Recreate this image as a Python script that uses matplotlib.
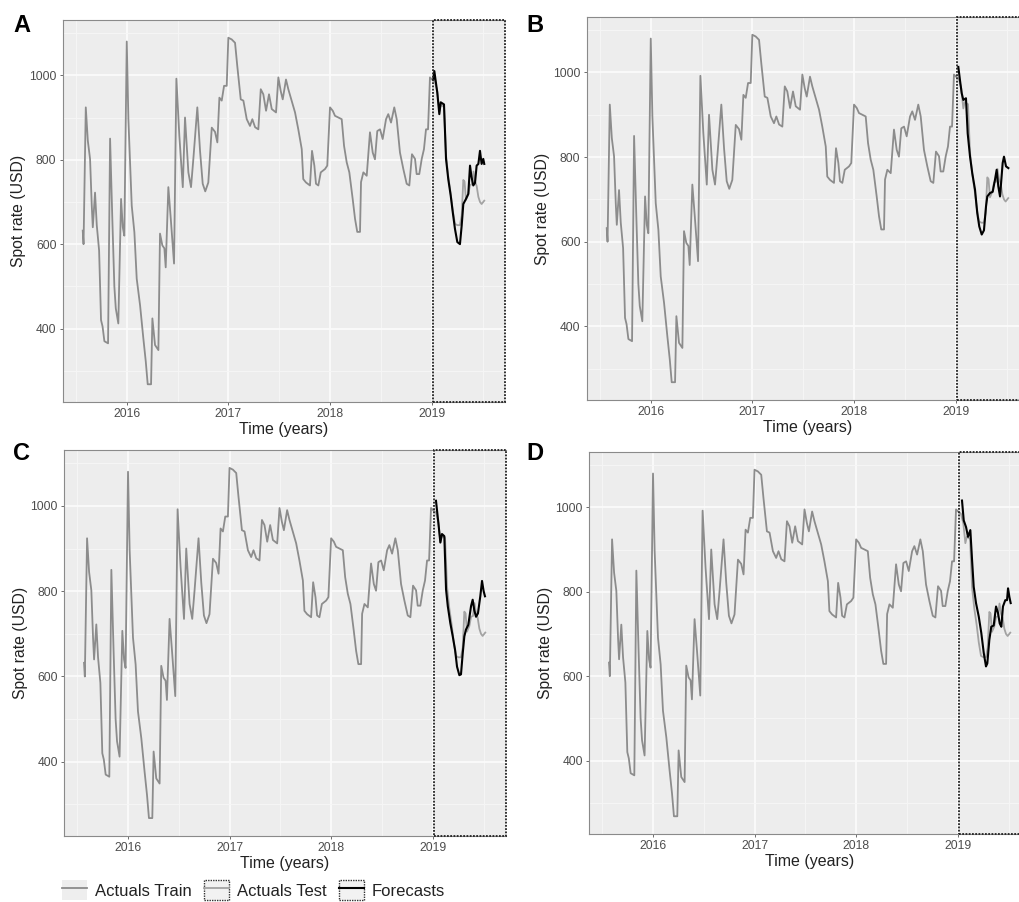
import matplotlib
matplotlib.use("Agg")
import matplotlib.pyplot as plt
from matplotlib.patches import Patch
from matplotlib.lines import Line2D
from matplotlib.legend_handler import HandlerTuple

plt.rcParams['font.family'] = ['Liberation Sans', 'DejaVu Sans']

# ---- data (decimal years, spot rate in USD) ----
train_t = [2015.567, 2015.575, 2015.597, 2015.617, 2015.639, 2015.656, 2015.666, 2015.688,
           2015.705, 2015.728, 2015.747, 2015.762, 2015.780, 2015.816, 2015.836, 2015.858,
           2015.878, 2015.892, 2015.917, 2015.944, 2015.961, 2015.976, 2016.000, 2016.016,
           2016.049, 2016.075, 2016.098, 2016.131, 2016.163, 2016.187, 2016.206, 2016.239,
           2016.252, 2016.278, 2016.311, 2016.327, 2016.350, 2016.370, 2016.383, 2016.409,
           2016.433, 2016.465, 2016.488, 2016.517, 2016.551, 2016.573, 2016.606, 2016.632,
           2016.655, 2016.694, 2016.721, 2016.747, 2016.772, 2016.802, 2016.836, 2016.868,
           2016.891, 2016.911, 2016.934, 2016.957, 2016.983, 2016.999, 2017.032, 2017.065,
           2017.087, 2017.121, 2017.147, 2017.180, 2017.212, 2017.235, 2017.262, 2017.294,
           2017.318, 2017.343, 2017.370, 2017.399, 2017.426, 2017.468, 2017.491, 2017.514,
           2017.534, 2017.566, 2017.589, 2017.613, 2017.655, 2017.687, 2017.721, 2017.736,
           2017.763, 2017.802, 2017.822, 2017.845, 2017.861, 2017.884, 2017.908, 2017.950,
           2017.972, 2017.999, 2018.026, 2018.048, 2018.081, 2018.114, 2018.137, 2018.163,
           2018.189, 2018.222, 2018.245, 2018.267, 2018.294, 2018.304, 2018.327, 2018.360,
           2018.392, 2018.419, 2018.441, 2018.464, 2018.491, 2018.517, 2018.550, 2018.572,
           2018.599, 2018.631, 2018.655, 2018.687, 2018.720, 2018.753, 2018.779, 2018.805,
           2018.835, 2018.851, 2018.877, 2018.901, 2018.923, 2018.943, 2018.963, 2018.982,
           2019.015]
train_v = [632, 600, 924, 845, 802, 690, 640, 722,
           645, 585, 420, 405, 370, 365, 850, 660,
           500, 448, 412, 707, 640, 620, 1080, 896,
           691, 628, 518, 455, 377, 322, 268, 268,
           424, 361, 349, 625, 597, 590, 545, 735,
           660, 554, 992, 857, 735, 900, 770, 735,
           802, 924, 820, 743, 725, 746, 876, 866,
           841, 947, 940, 975, 975, 1089, 1085, 1077,
           1022, 943, 940, 896, 880, 896, 877, 872,
           967, 955, 916, 955, 920, 912, 995, 963,
           943, 990, 967, 947, 912, 872, 825, 754,
           746, 739, 821, 786, 743, 739, 770, 778,
           786, 924, 916, 904, 900, 896, 833, 794,
           770, 707, 660, 629, 629, 747, 770, 762,
           865, 817, 801, 868, 872, 849, 896, 908,
           888, 924, 896, 817, 778, 743, 739, 813,
           802, 766, 766, 802, 825, 872, 872, 995,
           987]

test_t = [2019.015, 2019.030, 2019.054, 2019.074, 2019.088, 2019.120, 2019.140, 2019.162,
          2019.186, 2019.206, 2019.228, 2019.251, 2019.277, 2019.294, 2019.310, 2019.322,
          2019.336, 2019.359, 2019.376, 2019.395, 2019.410, 2019.425, 2019.441, 2019.458,
          2019.474, 2019.490, 2019.516]
test_v = [987, 985, 962, 915, 930, 925, 810, 760,
          720, 680, 648, 645, 645, 668, 752, 748,
          705, 718, 740, 742, 772, 748, 738, 712,
          700, 695, 703]

fc_a_t = [2019.015, 2019.025, 2019.054, 2019.074, 2019.088, 2019.120, 2019.140, 2019.162,
          2019.186, 2019.206, 2019.228, 2019.251, 2019.277, 2019.294, 2019.310, 2019.336,
          2019.359, 2019.376, 2019.390, 2019.408, 2019.425, 2019.441, 2019.458, 2019.474,
          2019.490, 2019.506, 2019.516]
fc_a_v = [990, 1010, 959, 908, 936, 931, 802, 754,
          715, 676, 636, 605, 600, 644, 695, 707,
          719, 786, 760, 739, 745, 786, 790, 821,
          790, 802, 790]

fc_b_t = [2019.025, 2019.041, 2019.058, 2019.074, 2019.100, 2019.117, 2019.140, 2019.162,
          2019.189, 2019.211, 2019.231, 2019.255, 2019.277, 2019.297, 2019.310, 2019.336,
          2019.363, 2019.385, 2019.402, 2019.418, 2019.435, 2019.461, 2019.474, 2019.494,
          2019.517]
fc_b_v = [1013, 982, 951, 935, 939, 856, 801, 762,
          723, 668, 636, 617, 627, 683, 707, 715,
          718, 746, 770, 731, 707, 786, 801, 778,
          774]

fc_c_t = [2019.031, 2019.054, 2019.074, 2019.090, 2019.113, 2019.130, 2019.147, 2019.172,
          2019.196, 2019.219, 2019.238, 2019.261, 2019.277, 2019.294, 2019.310, 2019.326,
          2019.349, 2019.376, 2019.392, 2019.408, 2019.425, 2019.444, 2019.467, 2019.484,
          2019.500, 2019.513]
fc_c_v = [1012, 961, 914, 934, 929, 804, 765, 725,
          694, 662, 623, 603, 605, 654, 694, 710,
          721, 765, 780, 755, 740, 748, 788, 824,
          800, 788]

fc_d_t = [2019.041, 2019.058, 2019.081, 2019.100, 2019.123, 2019.140, 2019.156, 2019.179,
          2019.206, 2019.231, 2019.255, 2019.277, 2019.290, 2019.310, 2019.329, 2019.353,
          2019.376, 2019.395, 2019.412, 2019.428, 2019.444, 2019.467, 2019.484, 2019.494,
          2019.507, 2019.520]
fc_d_v = [1016, 969, 953, 930, 946, 875, 812, 773,
          741, 702, 655, 623, 630, 686, 717, 720,
          765, 750, 725, 717, 765, 780, 780, 808,
          788, 773]

panel_labels = ['A', 'B', 'C', 'D']
forecasts = [(fc_a_t, fc_a_v), (fc_b_t, fc_b_v), (fc_c_t, fc_c_v), (fc_d_t, fc_d_v)]
year_ticks = [2016, 2017, 2018, 2019]
rate_ticks = [400, 600, 800, 1000]

# ---- layout (pixel boxes: left, top, right, bottom) ----
W, H = 1020, 902
boxes = [(62.7, 20, 505, 402), (586.7, 17, 1029, 400),
         (64, 450, 506, 836), (589, 452, 1031, 834)]
letter_pos = [(13, 32), (526, 32), (13, 460), (526, 460)]

train_col = '#8c8c8c'
test_col = '#a3a3a3'
bg_col = '#ededed'

fig = plt.figure(figsize=(W / 100, H / 100), dpi=100)

for i, (l, t, r, b) in enumerate(boxes):
    ax = fig.add_axes([l / W, 1 - b / H, (r - l) / W, (b - t) / H])
    ax.set_facecolor(bg_col)
    ax.set_xlim(2015.37, 2019.72)
    ax.set_ylim(226, 1131)

    # ggplot-like grid
    ax.set_xticks(year_ticks)
    ax.set_xticklabels([str(y) for y in year_ticks])
    ax.set_yticks(rate_ticks)
    ax.set_xticks([2015.5, 2016.5, 2017.5, 2018.5, 2019.5], minor=True)
    ax.set_yticks([300, 500, 700, 900, 1100], minor=True)
    ax.grid(which='major', color='#fbfbfb', lw=1.3)
    ax.grid(which='minor', color='#f6f6f6', lw=0.7)
    ax.set_axisbelow(True)
    ax.tick_params(which='minor', length=0)
    ax.tick_params(which='major', length=2.5, width=0.6, color='#555555',
                   labelsize=8.7, labelcolor='#4d4d4d', pad=2)

    for s in ['top', 'left', 'bottom']:
        ax.spines[s].set_color('#8a8a8a')
        ax.spines[s].set_linewidth(0.8)
    ax.spines['right'].set_visible(False)

    ax.plot(train_t, train_v, color=train_col, lw=1.3, solid_joinstyle='round')
    ax.plot(test_t, test_v, color=test_col, lw=1.3, solid_joinstyle='round')
    ft, fv = forecasts[i]
    ax.plot(ft, fv, color='black', lw=1.5, solid_joinstyle='round')

    # dotted box around the test period
    ax.axvspan(test_t[0], 2019.72, fill=False, edgecolor='#222222',
               linestyle=(0, (1, 0.8)), lw=1.3, clip_on=False, zorder=5)

    ax.set_xlabel('Time (years)', fontsize=11.5, color='#222222', labelpad=1)
    ax.set_ylabel('Spot rate (USD)', fontsize=11.3, color='#222222', labelpad=2)

    lx, ly = letter_pos[i]
    fig.text(lx / W, 1 - ly / H, panel_labels[i], fontsize=17, fontweight='bold',
             ha='left', va='baseline')

# ---- legend ----
key_bg = Patch(facecolor='#eeeeee', edgecolor='none')
key_dot = Patch(facecolor='#f2f2f2', edgecolor='#333333', linestyle=(0, (1, 0.8)), lw=1.0)
h_train = (key_bg, Line2D([], [], color=train_col, lw=1.3))
h_test = (key_dot, Line2D([], [], color=test_col, lw=1.3))
h_fc = (key_dot, Line2D([], [], color='black', lw=1.5))
fig.legend([h_train, h_test, h_fc], ['Actuals Train', 'Actuals Test', 'Forecasts'],
           handler_map={tuple: HandlerTuple(ndivide=1)},
           loc='center left', bbox_to_anchor=(54 / W, 1 - 890 / H), ncol=3,
           frameon=False, fontsize=12, handlelength=1.5, handleheight=1.5,
           handletextpad=0.45, columnspacing=0.75, borderpad=0, labelcolor='#222222')

fig.savefig('out.png', dpi=100)
